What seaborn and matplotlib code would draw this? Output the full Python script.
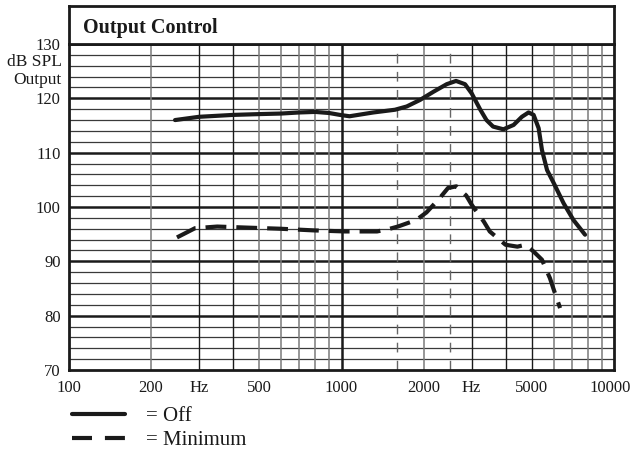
import numpy as np
import pandas as pd
import matplotlib
matplotlib.use('Agg')
import matplotlib.pyplot as plt
import matplotlib.transforms as mtransforms
import seaborn as sns
from matplotlib.lines import Line2D

# curve readings (Hz, dB SPL)
off_freq = [245, 300, 400, 500, 600, 700, 800, 900, 987, 1070, 1309, 1571, 1735,
            1941, 2173, 2432, 2632, 2840, 3005, 3224, 3404, 3600, 3928, 4281,
            4591, 4857, 5070, 5290, 5440, 5680, 6010, 6530, 7100, 7830]
off_db = [116.0, 116.6, 116.95, 117.1, 117.2, 117.4, 117.5, 117.3, 116.95, 116.7,
          117.4, 117.9, 118.5, 119.7, 121.2, 122.6, 123.2, 122.6, 120.9, 118.0,
          116.0, 114.8, 114.3, 115.1, 116.6, 117.4, 116.95, 114.5, 110.5, 106.8,
          104.4, 100.7, 97.6, 94.9]

min_freq = [249, 270, 290, 350, 454, 595, 787, 1030, 1350, 1480, 1610, 1880, 2050,
            2290, 2460, 2640, 2870, 3005, 3330, 3500, 4000, 4420, 4730, 5070,
            5440, 5820, 6010, 6340]
min_db = [94.4, 95.3, 96.1, 96.4, 96.2, 96.0, 95.7, 95.5, 95.5, 95.9, 96.4, 97.6,
          99.0, 101.6, 103.5, 103.8, 102.1, 100.4, 97.3, 95.5, 93.05, 92.7, 93.05,
          91.8, 90.3, 86.9, 84.8, 81.4]

x_ticks = [100, 200, 300, 500, 1000, 2000, 3000, 5000, 10000]
x_labels = ['100', '200', 'Hz', '500', '1000', '2000', 'Hz', '5000', '10000']
y_ticks = [70, 80, 90, 100, 110, 120, 130]

df = pd.concat([
    pd.DataFrame({'freq': off_freq, 'db': off_db, 'curve': 'Off'}),
    pd.DataFrame({'freq': min_freq, 'db': min_db, 'curve': 'Minimum'}),
])

sns.set_style('white')
plt.rcParams['font.family'] = ['Liberation Serif', 'DejaVu Serif']

W, H = 634, 453
fig = plt.figure(figsize=(W / 100, H / 100), dpi=100)
L, R, B, T = 69 / W, 614 / W, 1 - 370 / H, 1 - 44 / H
ax = fig.add_axes([L, B, R - L, T - B])

ink = '#1a1a1a'

# grid
for v in range(72, 130, 2):
    if v % 10:
        ax.axhline(v, color='#3a3a3a', lw=0.9, zorder=1)
for v in [80, 90, 100, 110, 120]:
    ax.axhline(v, color=ink, lw=1.8, zorder=1)
gray_v = [200, 500, 600, 700, 800, 900, 2000, 6000, 7000, 8000, 9000]
black_v = [300, 400, 3000, 4000, 5000]
for v in gray_v:
    ax.axvline(v, color='#7a7a7a', lw=1.1, zorder=1)
for v in black_v:
    ax.axvline(v, color=ink, lw=1.0, zorder=1)
ax.axvline(1000, color=ink, lw=1.8, zorder=1)
for v in [1600, 2500]:
    ax.axvline(v, color='#666666', lw=1.0, dashes=(7, 6), zorder=1)

sns.lineplot(data=df, x='freq', y='db', style='curve', ax=ax, color=ink,
             linewidth=3.0, dashes={'Off': '', 'Minimum': (5, 2.4)},
             legend=False, sort=False, zorder=3)
for ln in ax.get_lines()[-2:]:
    ln.set_solid_joinstyle('round')
    ln.set_dash_joinstyle('round')

ax.set_xscale('log')
ax.set_xlim(100, 10000)
ax.set_ylim(70, 130)
ax.set_xticks(x_ticks)
ax.set_xticklabels(x_labels)
ax.xaxis.set_minor_locator(matplotlib.ticker.NullLocator())
ax.set_yticks(y_ticks)
ax.set_yticklabels([str(v) for v in y_ticks])
ax.tick_params(length=0, labelsize=12, colors=ink)
ax.tick_params(axis='x', pad=7)
ax.tick_params(axis='y', pad=6)
ax.set_xlabel(None)
ax.set_ylabel(None)
for s in ax.spines.values():
    s.set_linewidth(2.0)
    s.set_color(ink)

# nudge the last x label so it stays inside the canvas
last = ax.get_xticklabels()[-1]
last.set_transform(last.get_transform() +
                   mtransforms.ScaledTranslation(-4 / 100, 0, fig.dpi_scale_trans))

ax.text(-0.013, 126.6, 'dB SPL', transform=ax.get_yaxis_transform(),
        ha='right', va='center', fontsize=12.5, color=ink)
ax.text(-0.013, 123.4, 'Output', transform=ax.get_yaxis_transform(),
        ha='right', va='center', fontsize=12.5, color=ink)

# title box
tb = fig.add_axes([L, T, R - L, (1 - 6 / H) - T])
tb.set_xticks([])
tb.set_yticks([])
for s in tb.spines.values():
    s.set_linewidth(2.0)
    s.set_color(ink)
tb.text(0.026, 0.42, 'Output Control', fontsize=14.5, fontweight='bold',
        ha='left', va='center', color=ink, transform=tb.transAxes)

handles = [Line2D([], [], color=ink, lw=3.0),
           Line2D([], [], color=ink, lw=3.0, dashes=(4.8, 3.1))]
fig.legend(handles, ['= Off', '= Minimum'], loc='upper left',
           bbox_to_anchor=(57 / W, 1 - 392 / H), frameon=False, fontsize=15,
           handlelength=2.55, handletextpad=1.0, labelspacing=0.22,
           borderpad=0.2, labelcolor=ink)

fig.savefig('out.png', dpi=100)
